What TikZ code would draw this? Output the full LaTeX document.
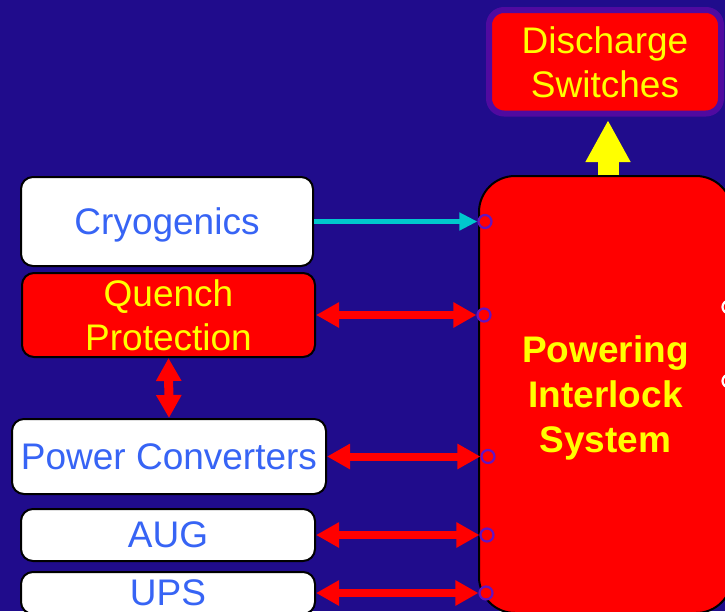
\documentclass[tikz,border=0pt]{standalone}
\usepackage{fontspec}
\setmainfont{Liberation Sans}
\usetikzlibrary{arrows.meta}
\definecolor{fondo}{RGB}{32,12,140}
\definecolor{rojo}{RGB}{255,0,0}
\definecolor{amarillo}{RGB}{255,255,0}
\definecolor{azultexto}{RGB}{55,100,245}
\definecolor{cian}{RGB}{0,200,205}
\definecolor{morado}{RGB}{100,20,190}
\definecolor{bordemorado}{RGB}{80,10,160}

\begin{document}
\begin{tikzpicture}[x=1pt, y=-1pt,
    caja/.style={draw=black, line width=2pt, rounded corners=12pt, inner sep=0pt,
        align=center, text depth=-2pt, font=\fontsize{37}{44}\selectfont},
    cajablanca/.style={caja, fill=white, text=azultexto},
    cajaroja/.style={caja, fill=rojo, text=amarillo},
    pin/.style={circle, draw=morado, line width=2.2pt, fill=rojo, minimum size=13pt, inner sep=0pt},
    flecharoja/.style={draw=rojo, line width=8pt,
        {Triangle[length=23pt,width=24pt]}-{Triangle[length=23pt,width=24pt]}}]
    % Fondo
    \useasboundingbox (0,0) rectangle (725,611);
    \fill[fondo] (0,0) rectangle (725,611);
    \clip (0,0) rectangle (725,611);

    % Cajas de la izquierda
    \node[cajablanca, minimum width=292pt, minimum height=89pt] (crio) at (167,221.5) {Cryogenics};
    \node[cajaroja, minimum width=293pt, minimum height=84pt] (quench) at (168.5,315) {Quench\\Protection};
    \node[cajablanca, minimum width=314pt, minimum height=75pt] (conv) at (169,456.5) {Power Converters};
    \node[cajablanca, minimum width=294pt, minimum height=52pt] (aug) at (168,535) {AUG};
    \node[cajablanca, minimum width=294pt, minimum height=42pt] (ups) at (168,593) {UPS};

    % Sistema de enclavamiento
    \node[cajaroja, rounded corners=36pt, minimum width=253pt, minimum height=437pt, text depth=-5pt,
        font=\bfseries\fontsize{37}{45}\selectfont] (pis) at (605.5,394.5) {Powering\\Interlock\\System};

    % Interruptores de descarga
    \node[cajaroja, draw=bordemorado, line width=6pt, rounded corners=15pt, text depth=-5pt,
        minimum width=232pt, minimum height=103.5pt] (dis) at (605,61.75) {Discharge\\Switches};

    % Flecha amarilla
    \coordinate (base) at ([xshift=2.5pt]pis.north);
    \draw[amarillo, line width=21pt, -{Triangle[length=42pt,width=42pt]}, shorten >=3.5pt]
        (base) -- (base |- dis.south);

    % Entradas
    \node[pin] (p1) at (485,221.5) {};
    \node[pin] (p2) at (484,315) {};
    \node[pin] (p3) at (488,456.5) {};
    \node[pin] (p4) at (487,535) {};
    \node[pin] (p5) at (486,593) {};
    \node[pin, draw=white] (p6) at (729,307) {};
    \node[pin, draw=white] (p7) at (729,381) {};

    % Conexiones
    \draw[cian, line width=5.5pt, -{Triangle[length=18pt,width=17pt]}] (crio.east) -- (p1.west);
    \draw[flecharoja] (quench.east) -- (p2.west);
    \draw[flecharoja] (conv.east) -- (p3.west);
    \draw[flecharoja] (aug.east) -- (p4.west);
    \draw[flecharoja] (ups.east) -- (p5.west);
    \draw[flecharoja, line width=9pt] (quench.south) -- (conv.north);
\end{tikzpicture}
\end{document}
